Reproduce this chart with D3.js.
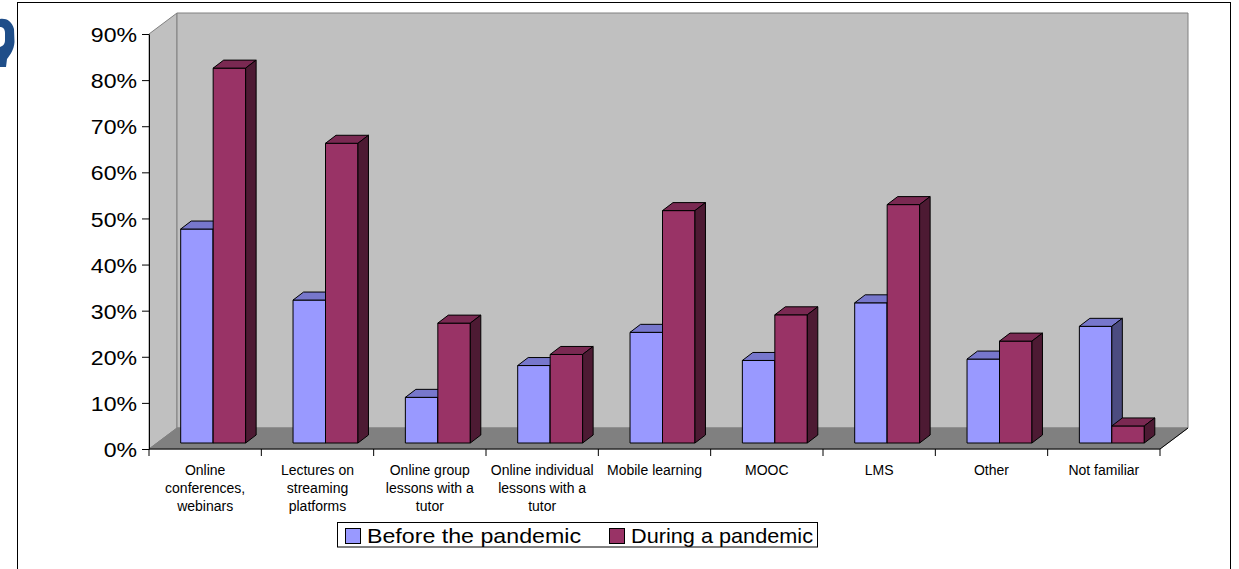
<!DOCTYPE html>
<html>
<head>
<meta charset="utf-8">
<script src="https://cdn.jsdelivr.net/npm/d3@7"></script>
<style>
  body { margin: 0; background: #fff; }
  svg { display: block; font-family: "Liberation Sans", Arial, sans-serif; }
</style>
</head>
<body>
<div class="box"></div>
<script>
// données
const categories = ['c1', 'c2', 'c3', 'c4', 'c5', 'c6', 'c7', 'c8', 'c9'];
const catLabels = [
  ['Online', 'conferences,', 'webinars'],
  ['Lectures on', 'streaming', 'platforms'],
  ['Online group', 'lessons with a', 'tutor'],
  ['Online individual', 'lessons with a', 'tutor'],
  ['Mobile learning'],
  ['MOOC'],
  ['LMS'],
  ['Other'],
  ['Not familiar']
];
const seriesNames = ['Before the pandemic', 'During a pandemic'];
const before = [46.4, 31.0, 9.9, 16.8, 24.0, 17.9, 30.4, 18.2, 25.3];
const during = [81.3, 65.0, 26.0, 19.2, 50.4, 27.8, 51.7, 22.1, 3.7];
const yTicks = [0, 10, 20, 30, 40, 50, 60, 70, 80, 90];

const dims = {width: 1239, height: 569, left: 149, right: 1160, top: 34, bottom: 449};
const depth = {dx: 28, dy: -21};          // profondeur des murs
const barOff = {dx: 8, dy: -6};           // décalage avant des barres
const barDepth = {dx: 10.5, dy: -8};      // profondeur des barres
const stretch = 1.1;                      // texte un peu élargi comme l'original

const colours = [
  {front: '#9999ff', top: '#7777cc', side: '#4c4c80'},
  {front: '#993366', top: '#7a2952', side: '#4d1a33'}
];

const svg = d3.select('.box')
  .append('svg')
  .attr('width', dims.width)
  .attr('height', dims.height);

// cadre extérieur
svg.append('rect')
  .attr('x', 17.5).attr('y', 2.5)
  .attr('width', 1213).attr('height', 580)
  .attr('fill', 'none').attr('stroke', '#000').attr('stroke-width', 1);

// morceau d'icône bleue à gauche
svg.append('path')
  .attr('d', 'M0,19 C6,18 12,21 14,29 L14.5,42 C14,50 10,55 7,59 L6,67 L0,67 L0,47 C3,46 5,44 5,40 L5,33 C5,29 3,27 0,27 Z')
  .attr('fill', '#1f4e89');

const x = d3.scaleBand()
  .domain(categories)
  .range([dims.left, dims.right])
  .paddingInner(0).paddingOuter(0);

const x1 = d3.scaleBand()
  .domain(seriesNames)
  .range([0, x.bandwidth()])
  .paddingInner(0).paddingOuter(0.73);

const y = d3.scaleLinear()
  .domain([0, 90])
  .range([dims.bottom, dims.top]);

const pt = (p) => p.map(d => d.join(',')).join(' ');
const L = dims.left, R = dims.right, T = dims.top, B = dims.bottom;

// mur de gauche
svg.append('polygon')
  .attr('points', pt([[L, T], [L + depth.dx, T + depth.dy], [L + depth.dx, B + depth.dy], [L, B]]))
  .attr('fill', '#c0c0c0').attr('stroke', '#808080');

// mur du fond
svg.append('polygon')
  .attr('points', pt([[L + depth.dx, T + depth.dy], [R + depth.dx, T + depth.dy], [R + depth.dx, B + depth.dy], [L + depth.dx, B + depth.dy]]))
  .attr('fill', '#c0c0c0').attr('stroke', '#808080');

// sol
svg.append('polygon')
  .attr('points', pt([[L, B], [L + depth.dx, B + depth.dy], [R + depth.dx, B + depth.dy], [R, B]]))
  .attr('fill', '#808080').attr('stroke', '#808080');

// barres
const values = [before, during];
const graph = svg.append('g');

categories.forEach((c, i) => {
  seriesNames.forEach((s, j) => {
    const v = values[j][i];
    const x0 = x(c) + x1(s) + barOff.dx;
    const xr = x0 + x1.bandwidth();
    const yb = y(0) + barOff.dy;
    const yt = y(v) + barOff.dy;
    const col = colours[j];
    const g = graph.append('g')
      .attr('stroke', '#000').attr('stroke-width', 1).attr('stroke-linejoin', 'round');
    g.append('polygon')
      .attr('points', pt([[x0, yt], [xr, yt], [xr, yb], [x0, yb]]))
      .attr('fill', col.front);
    g.append('polygon')
      .attr('points', pt([[x0, yt], [x0 + barDepth.dx, yt + barDepth.dy], [xr + barDepth.dx, yt + barDepth.dy], [xr, yt]]))
      .attr('fill', col.top);
    g.append('polygon')
      .attr('points', pt([[xr, yt], [xr + barDepth.dx, yt + barDepth.dy], [xr + barDepth.dx, yb + barDepth.dy], [xr, yb]]))
      .attr('fill', col.side);
  });
});

// axe y
const yAxis = d3.axisLeft(y)
  .tickValues(yTicks)
  .tickFormat(d => d + '%')
  .tickSize(7)
  .tickSizeOuter(0)
  .tickPadding(5);

const yg = svg.append('g')
  .attr('transform', `translate(${L}, 0)`)
  .call(yAxis);
yg.selectAll('text')
  .attr('font-size', 21)
  .attr('font-family', '"Liberation Sans", Arial, sans-serif')
  .attr('fill', '#000')
  .attr('x', -12 / stretch)
  .attr('transform', `scale(${stretch},1)`)
  .attr('dy', '0.36em');
yg.select('.domain').attr('stroke', '#000');

// axe x
const xg = svg.append('g');
xg.append('line')
  .attr('x1', L).attr('x2', R).attr('y1', B).attr('y2', B)
  .attr('stroke', '#000');
xg.append('line')
  .attr('x1', R).attr('x2', R + depth.dx).attr('y1', B).attr('y2', B + depth.dy)
  .attr('stroke', '#000');
const bounds = categories.map(c => x(c)).concat([R]);
xg.selectAll('.tick')
  .data(bounds)
  .enter()
  .append('line')
  .attr('x1', d => d).attr('x2', d => d)
  .attr('y1', B).attr('y2', B + 7)
  .attr('stroke', '#000');

const lbl = xg.selectAll('.lbl')
  .data(categories)
  .enter()
  .append('text')
  .attr('text-anchor', 'middle')
  .attr('font-size', 14)
  .attr('fill', '#000');
lbl.each(function(c, i) {
  d3.select(this).selectAll('tspan')
    .data(catLabels[i])
    .enter()
    .append('tspan')
    .attr('x', x(c) + x.bandwidth() / 2)
    .attr('y', (d, k) => 475 + k * 18)
    .text(d => d);
});

// légende
const leg = svg.append('g');
leg.append('rect')
  .attr('x', 337.5).attr('y', 522.5)
  .attr('width', 480).attr('height', 24.5)
  .attr('fill', '#fff').attr('stroke', '#000');
const legX = [345, 609];
const legW = [214, 182];
seriesNames.forEach((s, j) => {
  leg.append('rect')
    .attr('x', legX[j] + 0.5).attr('y', 528.5)
    .attr('width', 15).attr('height', 15)
    .attr('fill', colours[j].front).attr('stroke', '#000');
  leg.append('text')
    .attr('x', legX[j] + 22).attr('y', 543)
    .attr('font-size', 21)
    .attr('textLength', legW[j])
    .attr('lengthAdjust', 'spacingAndGlyphs')
    .attr('fill', '#000')
    .text(s);
});
</script>
</body>
</html>
